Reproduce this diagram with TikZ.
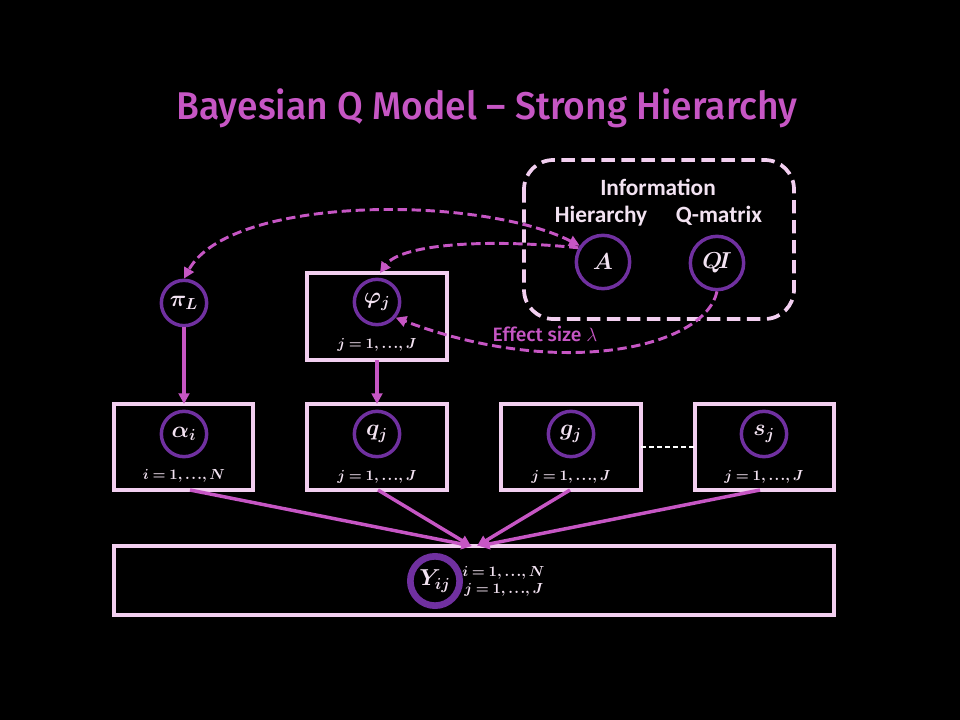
\documentclass[tikz,border=0pt]{standalone}
\usepackage{fontspec}
\setmainfont{Carlito}
\newfontfamily\titlefont{Fira Sans}[UprightFont=* Medium]
\usepackage{graphicx}
\usetikzlibrary{arrows.meta}
\definecolor{magn}{HTML}{C656C4}
\definecolor{purp}{HTML}{7030A0}
\definecolor{pinkl}{HTML}{F2CFF0}
\definecolor{txtl}{HTML}{F3E3F2}
\newcommand{\idxrange}[2]{{\thickmuskip=4mu $#1=1{,}\mskip3mu{.}\mskip1.5mu{.}\mskip1.5mu{.}{,}\mskip3mu #2$}}
\begin{document}
\begin{tikzpicture}[x=0.75pt,y=-0.75pt,
  platebox/.style={draw=pinkl,line width=3.6pt},
  var/.style={circle,draw=purp,line width=2.6pt,minimum size=34pt,inner sep=0pt,text=txtl,font=\fontsize{18}{20}\selectfont\boldmath},
  idx/.style={text=txtl,font=\fontsize{11}{12}\selectfont\boldmath,inner sep=0pt},
  arr/.style={draw=magn,line width=2.6pt,-{Triangle[length=8pt,width=8pt]}},
  darr/.style={draw=magn,line width=2.2pt,dash pattern=on 7pt off 3.5pt,-{Triangle[length=8pt,width=8pt]}},
  hdr/.style={text=txtl,font=\fontsize{17.5}{20}\selectfont\bfseries}]
\fill[black] (0,0) rectangle (960,720);
\useasboundingbox (0,0) rectangle (960,720);
% title
\node (title) at (487,108) {\resizebox{466pt}{\height}{\color{magn}\titlefont\fontsize{29}{34}\selectfont Bayesian Q Model – Strong Hierarchy}};
% information box
\draw[pinkl,line width=2.8pt,dash pattern=on 10pt off 5pt,rounded corners=22pt] (524,160) rectangle (794,319);
\node[hdr] (info) at (658,187) {Information};
\node[hdr] (hier) at (601,216) {Hierarchy};
\node[hdr] (qmat) at (719,216) {Q-matrix};
\node[var,minimum size=40pt] (A) at (603,262) {$A$};
\node[var,minimum size=40pt] (QI) at (717,263) {$Q\!I$};
% plates
\draw[platebox] (307,273) rectangle (447,360);
\coordinate (phitop) at (380,273);
\coordinate (phibot) at (377,360);
\draw[platebox] (114,404) rectangle (253,490);
\draw[platebox] (307,404) rectangle (447,490);
\draw[platebox] (501,404) rectangle (641,490);
\draw[platebox] (695,404) rectangle (834,490);
\draw[platebox] (114,546) rectangle (834,615);
\coordinate (atop) at (184,404);
\coordinate (qtop) at (377,404);
\coordinate (abot) at (190,490);
\coordinate (qbot) at (378,490);
\coordinate (gbot) at (570,490);
\coordinate (sbot) at (760,490);
\coordinate (gright) at (641,447);
\coordinate (sleft) at (695,447);
\coordinate (y1) at (472,546);
\coordinate (y2) at (471,546);
\coordinate (y3) at (477,546);
\coordinate (y4) at (479,546);
% variables
\node[var] (pi) at (184,303) {$\pi_L$};
\node[var] (phi) at (377,302) {$\varphi_j$};
\node[idx] (phiidx) at (377,345) {\idxrange{j}{J}};
\node[var] (alpha) at (184,434) {$\alpha_i$};
\node[idx] (aidx) at (184,476) {\idxrange{i}{N}};
\node[var] (q) at (377,434) {$q_j$};
\node[idx] (qidx) at (377,477) {\idxrange{j}{J}};
\node[var] (g) at (571,434) {$g_j$};
\node[idx] (gidx) at (571,477) {\idxrange{j}{J}};
\node[var] (s) at (764,434) {$s_j$};
\node[idx] (sidx) at (764,477) {\idxrange{j}{J}};
\node[var,line width=5pt,minimum size=37pt] (Y) at (435,581) {$Y_{ij}$};
\node[idx,anchor=west] (yi) at (462,573) {\idxrange{i}{N}};
\node[idx,anchor=west] (yj) at (464,590) {\idxrange{j}{J}};
% connectors
\draw[white,line width=1.5pt,dash pattern=on 4pt off 2pt] (gright) -- (sleft);
\draw[arr] (pi) -- (atop);
\draw[arr] (phibot) -- (qtop);
\draw[arr] (abot) -- (y1);
\draw[arr] (qbot) -- (y2);
\draw[arr] (gbot) -- (y3);
\draw[arr] (sbot) -- (y4);
\draw[darr,{Triangle[length=8pt,width=8pt]}-{Triangle[length=8pt,width=8pt]}] (A.145) .. controls (480,195) and (230,195) .. (pi.north);
\draw[darr] (A.150) .. controls (480,238) and (400,245) .. (phitop);
\draw[darr] (QI.south) .. controls (705,348) and (560,380) .. (phi.-40);
\node[text=magn,font=\titlefont\fontsize{14.5}{17}\selectfont] (eff) at (545,334) {Effect size $\lambda$};
\end{tikzpicture}
\end{document}
